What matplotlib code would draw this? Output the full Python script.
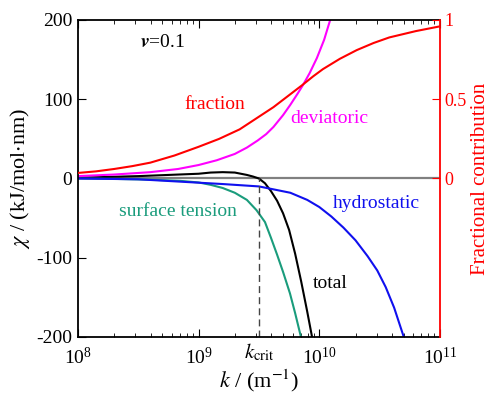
import matplotlib
matplotlib.use("Agg")
import matplotlib.pyplot as plt
import numpy as np

plt.rcParams['font.family'] = ['Liberation Serif', 'DejaVu Serif']
plt.rcParams['mathtext.fontset'] = 'stix'
plt.rcParams['axes.unicode_minus'] = False

# log10(k) values, chi in kJ/(mol nm)
tot_logk = [8.0, 8.5, 9.0, 9.1, 9.2, 9.3, 9.4, 9.45, 9.5, 9.55, 9.6, 9.65,
            9.7, 9.75, 9.8, 9.85, 9.9, 9.94]
tot_chi = [1, 3, 6, 7.5, 8, 7.5, 4.5, 2.5, 0, -6, -16, -28,
           -44, -65, -95, -130, -168, -200]

surf_logk = [8.0, 8.3, 8.6, 8.85, 9.0, 9.1, 9.2, 9.3, 9.4, 9.48, 9.55, 9.6,
             9.65, 9.7, 9.757, 9.8, 9.848]
surf_chi = [0, -0.5, -1.5, -3, -5, -8, -12, -18, -27, -40, -55, -75,
            -96, -118, -145, -170, -200]

hyd_logk = [8.0, 8.5, 8.85, 9.2, 9.5, 9.76, 9.9, 10.0, 10.1, 10.2, 10.3,
            10.4, 10.48, 10.55, 10.62, 10.70]
hyd_chi = [0, -1, -4, -7, -10, -18, -27, -36, -48, -62, -78,
           -98, -116, -137, -163, -200]

dev_logk = [8.0, 8.3, 8.6, 8.83, 9.0, 9.15, 9.3, 9.4, 9.49, 9.56, 9.62, 9.7,
            9.76, 9.82, 9.865, 9.92, 9.98, 10.04, 10.09, 10.13]
dev_chi = [3, 5, 8, 12, 17, 23, 31, 39, 48, 56, 65, 80,
           93, 107, 118, 133, 152, 175, 200, 222]

frac_logk = [8.0, 8.15, 8.3, 8.45, 8.6, 8.8, 9.0, 9.17, 9.34, 9.48, 9.62, 9.74,
             9.86, 9.95, 10.03, 10.17, 10.31, 10.45, 10.58, 10.8, 11.0]
frac_val = [0.035, 0.045, 0.06, 0.078, 0.10, 0.145, 0.20, 0.25, 0.31, 0.38, 0.45, 0.52,
            0.59, 0.645, 0.69, 0.755, 0.81, 0.855, 0.89, 0.93, 0.96]

k_crit = 10**9.5

fig = plt.figure(figsize=(4.93, 3.96), dpi=100)
ax = fig.add_axes([0.158, 0.149, 0.7345, 0.8005])

ax.axhline(0, color='#808080', lw=1.6, zorder=1)
ax.plot(10**np.array(tot_logk), tot_chi, color='black', lw=1.5)
ax.plot(10**np.array(surf_logk), surf_chi, color='#1a9c7c', lw=1.5)
ax.plot(10**np.array(hyd_logk), hyd_chi, color='#1010ee', lw=1.5)
ax.plot(10**np.array(dev_logk), dev_chi, color='#ff00ff', lw=1.5)
ax.plot([k_crit, k_crit], [-200, 0], color='#444444', lw=1.0, ls=(0, (5, 3)))

ax.set_xscale('log')
ax.set_xlim(1e8, 1e11)
ax.set_ylim(-200, 200)
ax.set_yticks([-200, -100, 0, 100, 200])
ax.set_xticks([1e8, 1e9, 1e10, 1e11])
ax.tick_params(axis='x', which='both', direction='in', top=True, labelsize=14, pad=7)
ax.tick_params(axis='x', which='major', length=6)
ax.tick_params(axis='x', which='minor', length=3)
ax.tick_params(axis='y', direction='in', length=6, labelsize=14, right=False, pad=4)
ax.set_xlabel(r'$k$ / (m$^{-1}$)', fontsize=16, labelpad=0)
ax.set_ylabel(r'$\chi$ / (kJ/mol$\cdot$nm)', fontsize=16, labelpad=3)
for s in ['left', 'top', 'bottom']:
    ax.spines[s].set_linewidth(1.3)
ax.spines['right'].set_visible(False)

ax2 = ax.twinx()
ax2.plot(10**np.array(frac_logk), frac_val, color='#ff0000', lw=1.5)
ax2.set_ylim(-1, 1)
ax2.set_yticks([0, 0.5, 1])
ax2.set_yticklabels(['0', '0.5', '1'])
ax2.tick_params(axis='y', direction='in', length=6, colors='red', labelsize=13, pad=3)
ax2.spines['right'].set_color('red')
ax2.spines['right'].set_linewidth(1.3)
for s in ['left', 'top', 'bottom']:
    ax2.spines[s].set_visible(False)
ax2.set_ylabel('Fractional contribution', color='red', fontsize=15, labelpad=3)

ax.text(10**8.70, 172, r'$\boldsymbol{v}$=0.1', ha='center', va='center', fontsize=14)
ax.text(10**9.135, 93, 'fraction', color='#ff0000', ha='center', va='center', fontsize=14)
ax.text(10**10.08, 76, 'deviatoric', color='#ff00ff', ha='center', va='center', fontsize=14)
ax.text(10**10.47, -31, 'hydrostatic', color='#1010ee', ha='center', va='center', fontsize=14)
ax.text(10**8.83, -42, 'surface tension', color='#1a9c7c', ha='center', va='center', fontsize=14)
ax.text(10**10.09, -132, 'total', color='black', ha='center', va='center', fontsize=14)
ax.text(k_crit, -0.05, r'$k_{\mathrm{crit}}$', transform=ax.get_xaxis_transform(),
        ha='center', va='center', fontsize=15)

fig.savefig('out.png', dpi=100)
